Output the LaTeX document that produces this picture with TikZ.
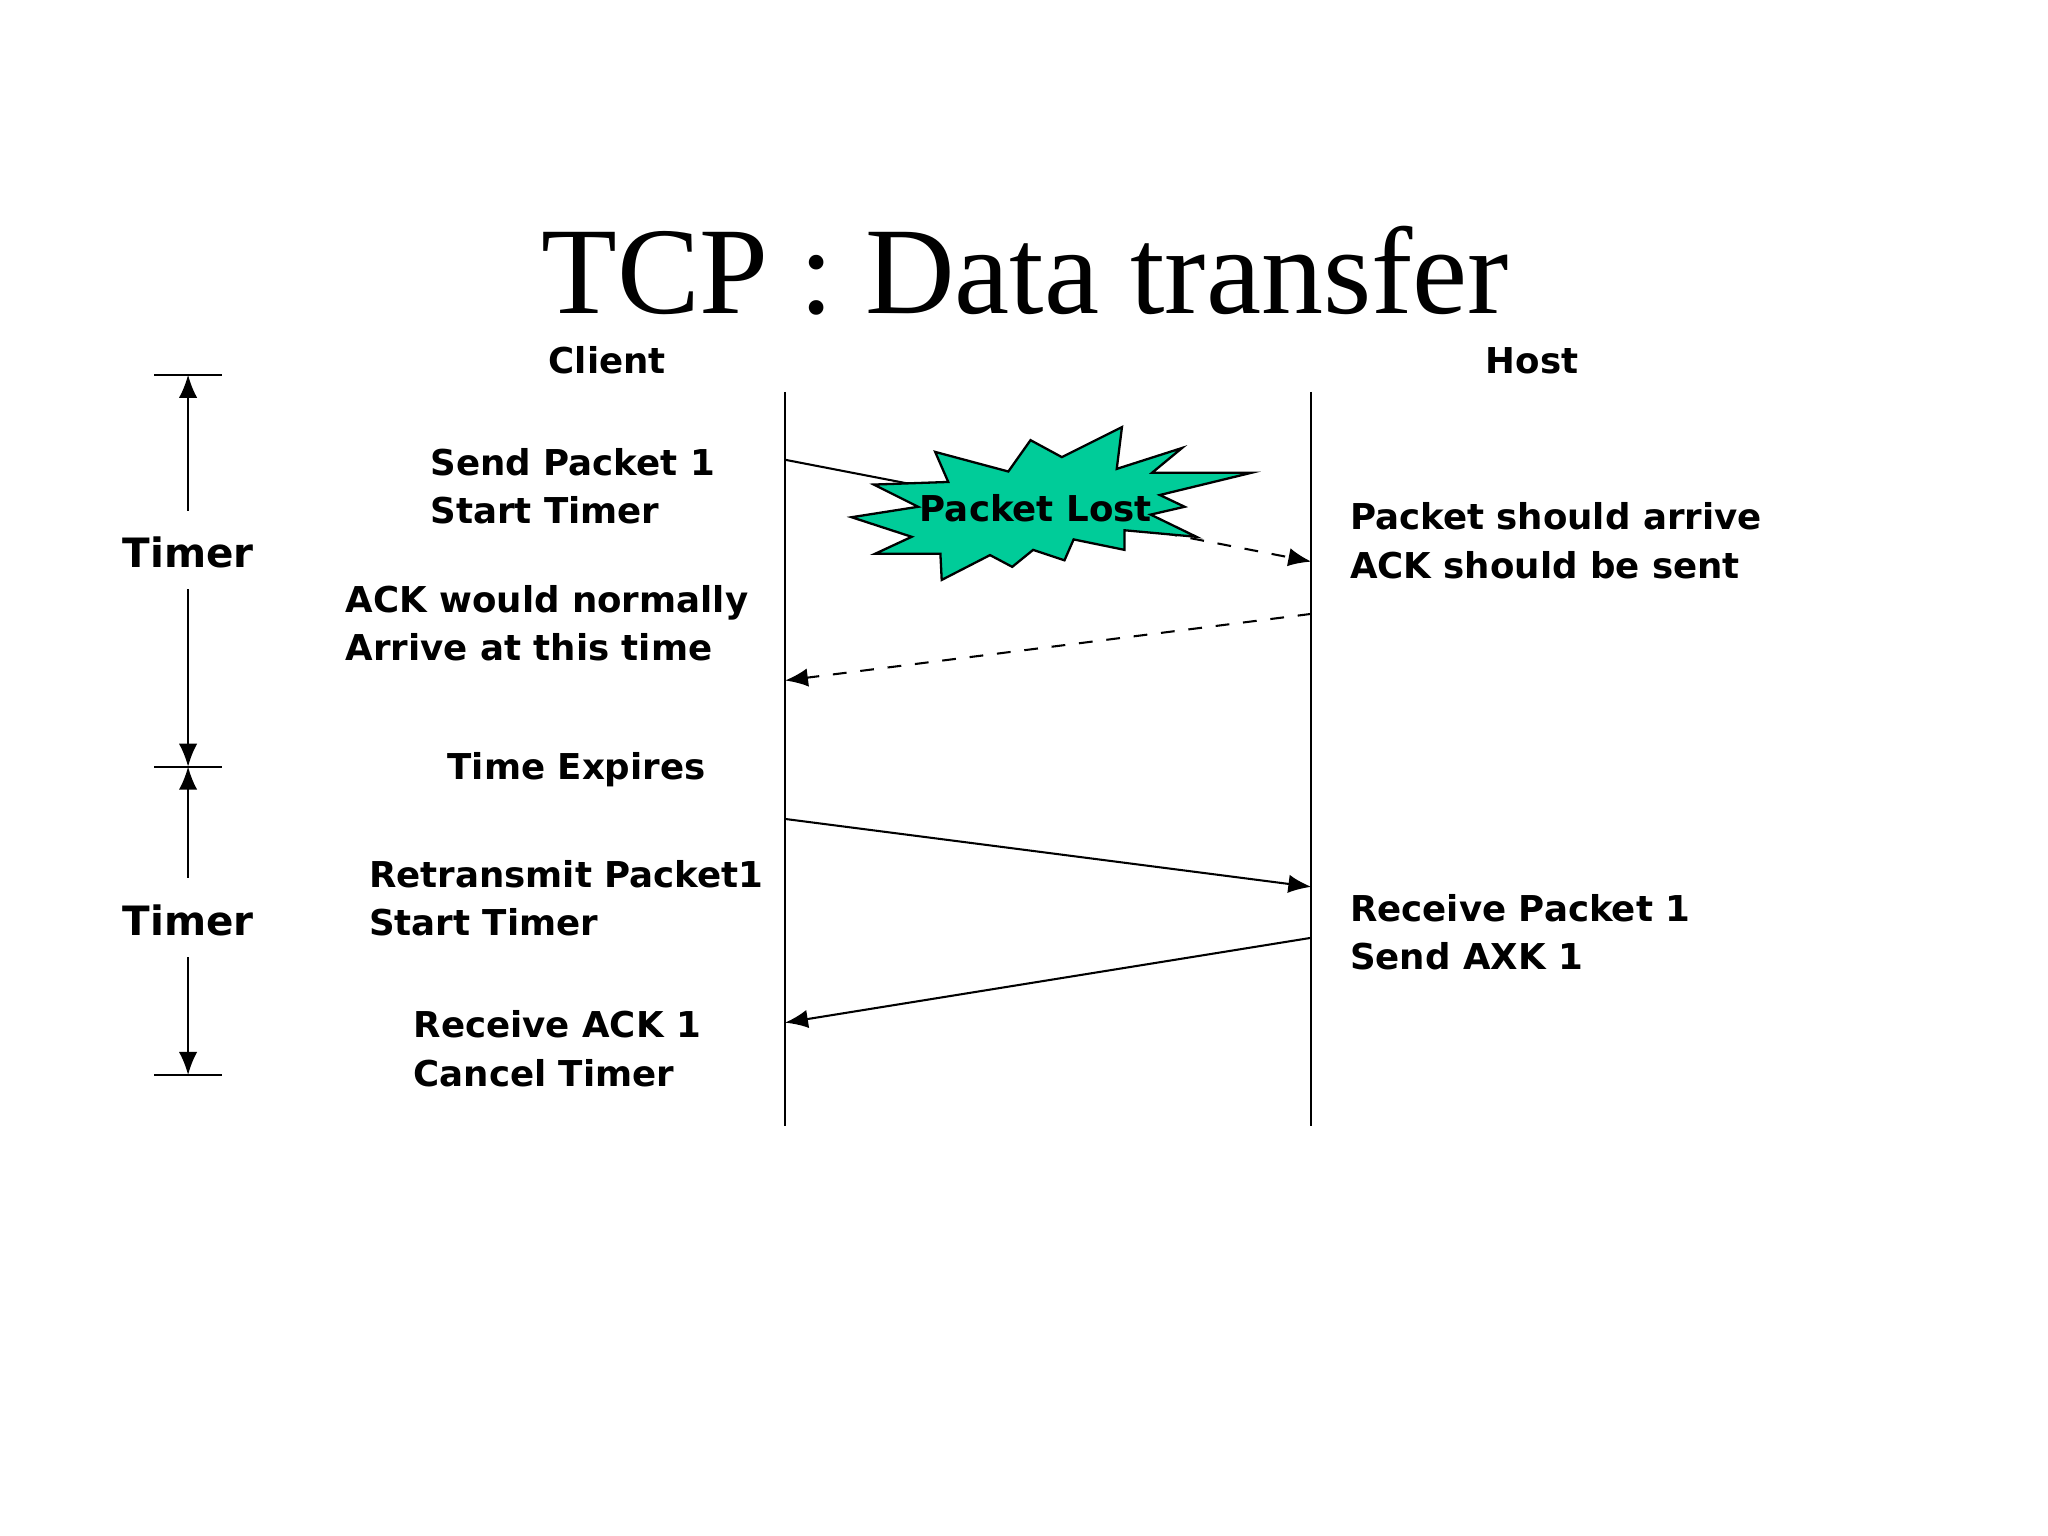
\documentclass[tikz,border=0pt]{standalone}
\usepackage{fontspec}
\setmainfont{DejaVu Sans}
\newfontfamily\titlefont{Liberation Serif}
\usetikzlibrary{arrows.meta}
\begin{document}
\begin{tikzpicture}[x=0.01cm,y=-0.01cm,
  lbl/.style={font=\fontsize{7.75}{10.5}\selectfont\bfseries,align=left,inner sep=0},
  life/.style={line width=0.4pt},
  msg/.style={line width=0.45pt,-{Latex[length=5pt,width=4pt]}},
  tick/.style={line width=0.4pt},
  tarr/.style={line width=0.4pt,-{Latex[length=5pt,width=4pt]}}]
\useasboundingbox (0,0) rectangle (1568,1176);
\node[font=\titlefont\fontsize{27}{31}\selectfont] (title) at (785,207) {TCP : Data transfer};
\node[lbl] (client) at (465,276) {Client};
\node[lbl] (host) at (1173,276) {Host};
\coordinate (ct) at (601,300); \coordinate (cb) at (601,862);
\coordinate (ht) at (1004,300); \coordinate (hb) at (1004,862);
\draw[life] (ct) -- (cb);
\draw[life] (ht) -- (hb);
% messages
\coordinate (s1) at (601,352); \coordinate (r1) at (1004,430);
\coordinate (m1) at (870,404);
\draw[line width=0.45pt] (s1) -- (m1);
\draw[msg,dashed] (m1) -- (r1);
\coordinate (a1) at (1004,470); \coordinate (a1e) at (601,521);
\draw[msg,dashed] (a1) -- (a1e);
\coordinate (s2) at (601,627); \coordinate (r2) at (1004,679);
\draw[msg] (s2) -- (r2);
\coordinate (a2) at (1004,718); \coordinate (a2e) at (601,783);
\draw[msg] (a2) -- (a2e);
% starburst
\draw[fill={rgb,255:red,0;green,204;blue,153},line width=0.5pt]
 (716,346)--(772,361)--(789,337)--(813,350)--(859,327)--(855,359)--(905,343)--(882,362)--(958,362)--(888,379)--(907,388)--(881,394)--(916,411)--(861,406)--(861,421)--(822,413)--(815,429)--(791,421)--(775,434)--(758,425)--(721,444)--(720,424)--(670,424)--(698,411)--(652,396)--(703,388)--(669,371)--(726,369)--cycle;
\node[lbl] (lost) at (793,389) {Packet Lost};
% texts
\node[lbl,anchor=west] (t1) at (329,372) {Send Packet 1\\Start Timer};
\node[lbl,anchor=west] (t2) at (264,477) {ACK would normally\\Arrive at this time};
\node[lbl,anchor=west] (t3) at (342,589) {Time Expires};
\node[lbl,anchor=west] (t4) at (282,688) {Retransmit Packet1\\Start Timer};
\node[lbl,anchor=west] (t5) at (316,803) {Receive ACK 1\\Cancel Timer};
\node[lbl,anchor=west] (t6) at (1033,414) {Packet should arrive\\ACK should be sent};
\node[lbl,anchor=west] (t7) at (1033,714) {Receive Packet 1\\Send AXK 1};
% timers
\node[lbl,font=\fontsize{8.8}{12}\selectfont\bfseries] (tm1) at (144,423) {Timer};
\node[lbl,font=\fontsize{8.8}{12}\selectfont\bfseries] (tm2) at (144,705) {Timer};
\coordinate (k1) at (144,287); \coordinate (k2) at (144,587); \coordinate (k3) at (144,823);
\draw[tick] (118,287) -- (170,287);
\draw[tick] (118,587) -- (170,587);
\draw[tick] (118,823) -- (170,823);
\draw[tarr] (144,391) -- (k1);
\draw[tarr] (144,451) -- (k2);
\draw[tarr] (144,672) -- (k2);
\draw[tarr] (144,733) -- (k3);
\end{tikzpicture}
\end{document}
